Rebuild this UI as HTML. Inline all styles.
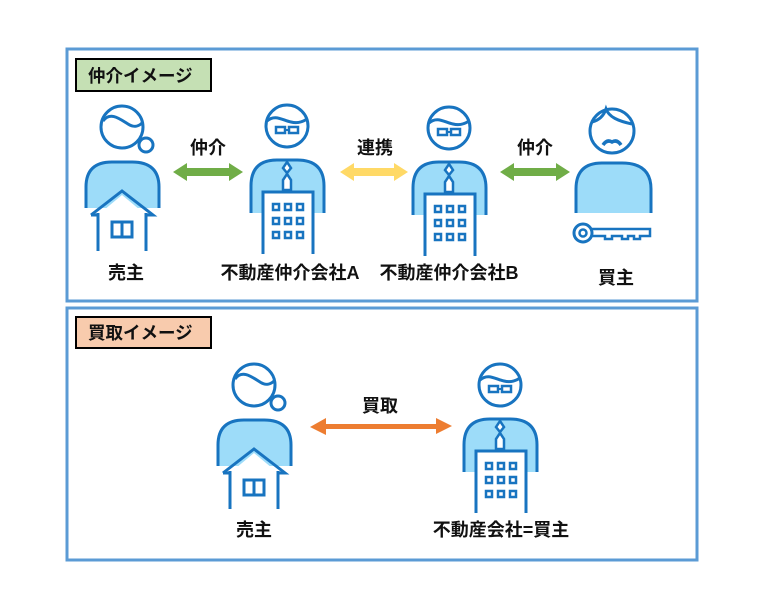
<!DOCTYPE html>
<html><head><meta charset="utf-8"><style>
body{margin:0;background:#fff}
svg text{font-family:"Liberation Sans","Noto Sans CJK JP",sans-serif;font-weight:bold;fill:#111}
</style></head><body>
<svg width="774" height="602" viewBox="0 0 774 602" xmlns="http://www.w3.org/2000/svg">
<defs>
<g id="seller" stroke="#1874C0" stroke-width="3" fill="none">
  <path d="M-36,81 V60 Q-36,35 -10,35 H10 Q37,35 37,60 V81 Z" fill="#9DDCF9" stroke="none"/>
  <path d="M-36,81 V60 Q-36,35 -10,35 H10 Q37,35 37,60 V81"/>
  <circle cx="24" cy="18" r="7" fill="#fff"/>
  <circle cx="0" cy="0" r="21" fill="#fff"/>
  <path d="M-19,-6 C-12,-16 -2,-8 6,-3 C12,1 17,-1 20,-4"/>
  <path d="M-24,88 L0,68 L24,88 V123 H-24 Z" fill="#fff" stroke="none"/>
  <path d="M-31,88 L0,64 L31,88 H24 M-24,88 H-31 M-24,86 V124 M24,86 V124"/>
  <rect x="-10" y="95" width="20" height="15"/>
  <line x1="0" y1="95" x2="0" y2="110"/>
</g>
<g id="agent" stroke="#1874C0" stroke-width="3" fill="none">
  <path d="M-36,87 V60 Q-36,34 -10,34 H10 Q37,34 37,60 V87 Z" fill="#9DDCF9" stroke="none"/>
  <path d="M-36,87 V60 Q-36,34 -10,34 H10 Q37,34 37,60 V87"/>
  <circle cx="0" cy="0" r="21" fill="#fff"/>
  <path d="M-20,-5 C-12,-12 -5,-6 4,-4 C12,-2 17,-5 20,-7"/>
  <rect x="-11" y="1" width="9" height="6" stroke-width="2.5"/>
  <rect x="2" y="1" width="9" height="6" stroke-width="2.5"/>
  <line x1="-2" y1="4" x2="2" y2="4" stroke-width="2"/>
  <path d="M0,36 L4,42 L0,47 L-4,42 Z" fill="#fff" stroke-width="2.5"/>
  <path d="M0,48 L4,54 L4,64 H-4 V54 Z" fill="#fff" stroke-width="2.5"/>
  <rect x="-24" y="66" width="50" height="62" fill="#fff" stroke="none"/>
  <path d="M-24,128 V66 H26 V128"/>
  <g stroke-width="2.5">
   <rect x="-14" y="78" width="6" height="6"/><rect x="-2" y="78" width="6" height="6"/><rect x="10" y="78" width="6" height="6"/>
   <rect x="-14" y="92" width="6" height="6"/><rect x="-2" y="92" width="6" height="6"/><rect x="10" y="92" width="6" height="6"/>
   <rect x="-14" y="106" width="6" height="6"/><rect x="-2" y="106" width="6" height="6"/><rect x="10" y="106" width="6" height="6"/>
  </g>
</g>
</defs>

<rect x="67" y="49" width="630" height="252" fill="#fff" stroke="#5B9BD5" stroke-width="3"/>
<rect x="67" y="308" width="630" height="252" fill="#fff" stroke="#5B9BD5" stroke-width="3"/>

<rect x="76" y="59" width="135" height="32" fill="#C5E0B4" stroke="#000" stroke-width="2"/>
<text x="88" y="82" font-size="17.5">仲介イメージ</text>
<rect x="76" y="317" width="135" height="31" fill="#F8CBAD" stroke="#000" stroke-width="2"/>
<text x="88" y="339" font-size="17.5">買取イメージ</text>

<use href="#seller" x="122" y="127"/>
<use href="#agent" x="287" y="126"/>
<use href="#agent" x="449" y="128"/>

<g stroke="#1874C0" stroke-width="3" fill="none">
  <path d="M-36,82 V58 Q-36,32 -10,32 H10 Q39,32 39,58 V82 Z" transform="translate(612,131)" fill="#9DDCF9" stroke="none"/>
  <path d="M-36,82 V58 Q-36,32 -10,32 H10 Q39,32 39,58 V82" transform="translate(612,131)"/>
  <circle cx="612" cy="131" r="22" fill="#fff"/>
  <path d="M592,122 C600,120 604,115 606,109 C609,117 618,121 632,124"/>
  <path d="M603,145 Q607,139 612,142 Q617,139 621,145" stroke-width="3.5"/>
  <circle cx="583" cy="233" r="9" fill="#fff"/>
  <circle cx="583" cy="233" r="3.5" stroke-width="2.5"/>
  <path d="M592,229 H650 V236 H640 V239 H634 V236 H628 V239 H622 V236 H612 V239 H605 V236 H592" stroke-width="2.5"/>
</g>

<use href="#seller" x="254" y="385"/>
<use href="#agent" x="500" y="385"/>

<g>
 <path d="M173,172 L187,163 V168 H229 V163 L243,172 L229,181 V176 H187 V181 Z" fill="#70AD47"/>
 <path d="M340,172 L354,163 V168 H394 V163 L408,172 L394,181 V176 H354 V181 Z" fill="#FFD966"/>
 <path d="M500,172 L514,163 V168 H556 V163 L570,172 L556,181 V176 H514 V181 Z" fill="#70AD47"/>
 <path d="M310,427 L326,418 V424 H436 V418 L452,426 L436,434 V429 H326 V435 Z" fill="#ED7D31"/>
</g>

<g font-size="18">
<text x="208" y="154" text-anchor="middle">仲介</text>
<text x="375" y="154" text-anchor="middle">連携</text>
<text x="535" y="154" text-anchor="middle">仲介</text>
<text x="380" y="412" text-anchor="middle">買取</text>
<text x="126" y="279" text-anchor="middle">売主</text>
<text x="290" y="279" text-anchor="middle">不動産仲介会社A</text>
<text x="449" y="279" text-anchor="middle">不動産仲介会社B</text>
<text x="616" y="284" text-anchor="middle">買主</text>
<text x="254" y="536" text-anchor="middle">売主</text>
<text x="501" y="536" text-anchor="middle">不動産会社=買主</text>
</g>
</svg>
</body></html>
